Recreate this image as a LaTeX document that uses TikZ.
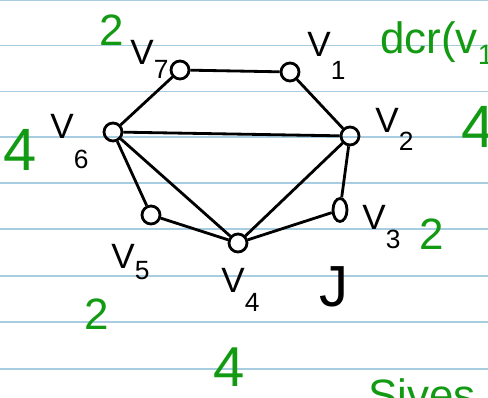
\documentclass[tikz,border=0pt]{standalone}
\usepackage{fontspec}
\setmainfont{Liberation Sans}
\usetikzlibrary{shapes.geometric}
\definecolor{PadGreen}{HTML}{139A13}
\definecolor{PadRule}{HTML}{A9CDE0}
% V with a hand-written subscript, #2 = how far the digit drops
\newcommand{\vname}[2]{V\raisebox{-#2}{\fontsize{15}{15}\selectfont #1}}

\begin{document}
\begin{tikzpicture}[x=0.02cm,y=-0.02cm,
  vtx/.style={draw=black,line width=1.6pt,circle,inner sep=0pt,minimum size=0.36cm},
  edge/.style={black,line width=1.6pt},
  vlab/.style={font=\fontsize{20}{20}\selectfont,inner sep=0pt,anchor=north west},
  note/.style={PadGreen,font=\fontsize{25}{25}\selectfont,inner sep=0pt},
  bignote/.style={PadGreen,font=\fontsize{34}{34}\selectfont,inner sep=0pt},
  rule/.style={PadRule,line width=0.8pt}]
  \useasboundingbox (0,0) rectangle (488,398);
  \clip (0,0) rectangle (488,398);
  \fill[white] (0,0) rectangle (488,398);
  % paper lines
  \foreach \y in {0,45.5,91.5,137,183,229,276,322,369}
    \draw[rule] (0,\y) -- (488,\y);

  % vertices
  \node[vtx] (v7) at (180,70) {};
  \node[vtx] (v1) at (290,72) {};
  \node[vtx] (v6) at (113,132) {};
  \node[vtx] (v2) at (350,136) {};
  \node[vtx] (v5) at (151,215) {};
  \node[vtx,ellipse,minimum width=0.28cm,minimum height=0.46cm] (v3) at (340,210) {};
  \node[vtx] (v4) at (238,243) {};

  % edges
  \draw[edge] (v7) -- (v1);
  \draw[edge] (v7) -- (v6);
  \draw[edge] (v1) -- (v2);
  \draw[edge] (v6) -- (v2);
  \draw[edge] (v6) -- (v5);
  \draw[edge] (v6) -- (v4);
  \draw[edge] (v2) -- (v4);
  \draw[edge] (v2) -- (v3);
  \draw[edge] (v5) -- (v4);
  \draw[edge] (v3) -- (v4);

  % vertex names
  \node[vlab] (l7) at (130,40) {\vname{7}{8pt}};
  \node[vlab] (l1) at (307,32) {\vname{1}{13pt}};
  \node[vlab] (l6) at (50,114) {\vname{6}{17pt}};
  \node[vlab] (l2) at (375,108) {\vname{2}{10pt}};
  \node[vlab] (l3) at (362,205) {\vname{3}{11pt}};
  \node[vlab] (l5) at (111,244) {\vname{5}{6pt}};
  \node[vlab] (l4) at (221,268) {\vname{4}{11pt}};
  \node[font=\fontsize{33}{33}\selectfont,inner sep=0pt] (jj) at (334,287) {J};

  % degrees (green)
  \node[note] (d7) at (112,30) {2};
  \node[bignote] (d6) at (20,150) {4};
  \node[note,anchor=west] (dd) at (380,43) {dcr(v\raisebox{-6pt}{\fontsize{16}{16}\selectfont 1}};
  \node[bignote] (d2) at (478,127) {4};
  \node[note] (d3) at (432,234) {2};
  \node[note] (d5) at (97,314) {2};
  \node[bignote,font=\fontsize{32}{32}\selectfont] (d4) at (229,367) {4};
  \node[note,anchor=north west] (gv) at (368,378) {Sives};
\end{tikzpicture}
\end{document}
